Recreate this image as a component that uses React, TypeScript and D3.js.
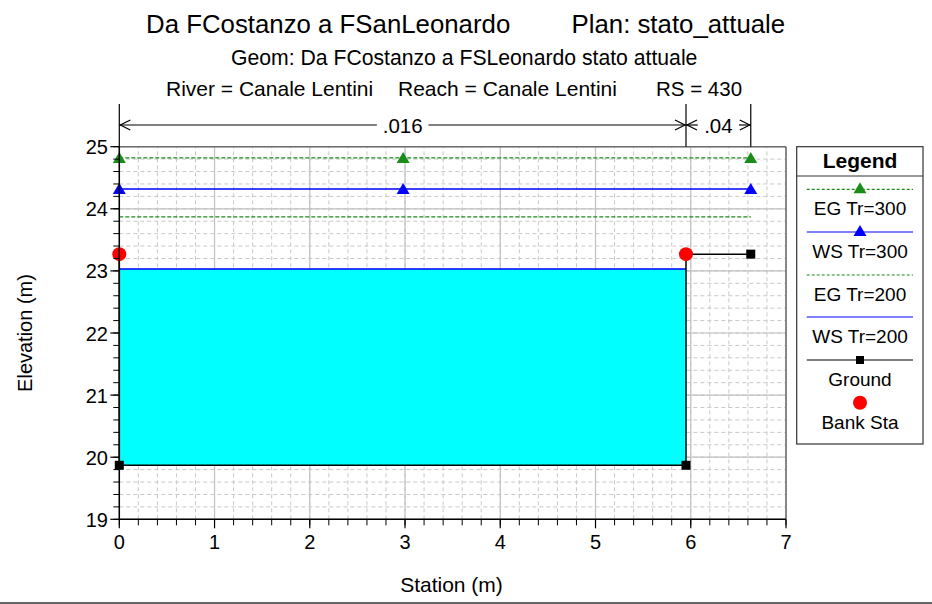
import React from "react";
import * as d3 from "d3";

const groundSta = [0, 0, 5.95, 5.95, 6.63];
const groundElev = [23.27, 19.87, 19.87, 23.27, 23.27];
const bankSta = [0, 5.95];
const bankElev = [23.27, 23.27];
const wsTr200 = 23.03;
const egTr200 = 23.87;
const wsTr300 = 24.32;
const egTr300 = 24.82;
const profileSta = [0, 6.63];
const wsTr200Sta = [0, 5.95];
const markerSta = [0, 2.98, 6.63];
const nBreaks = [0, 5.95, 6.63];
const nValues = [".016", ".04"];
const xTicks = [0, 1, 2, 3, 4, 5, 6, 7];
const yTicks = [19, 20, 21, 22, 23, 24, 25];
const legendItems = ["EG Tr=300", "WS Tr=300", "EG Tr=200", "WS Tr=200", "Ground", "Bank Sta"];

const FONT = "Liberation Sans, Arial, Helvetica, sans-serif";
const GREEN = "#1a8c1a";
const BLUE = "#0000ff";

export default function App() {
  const x = d3.scaleLinear().domain([0, 7]).range([119.3, 786]);
  const y = d3.scaleLinear().domain([19, 25]).range([519.3, 146.7]);
  const [x0, x1] = x.range();
  const [yb, yt] = y.range();
  const minorX = d3.range(0, 7.0001, 0.2);
  const minorY = d3.range(19, 25.0001, 0.2);

  const ground = groundSta.map((s, i) => [s, groundElev[i]] as [number, number]);
  const line = d3.line<[number, number]>().x(d => x(d[0])).y(d => y(d[1]));
  const area = d3
    .area<[number, number]>()
    .x(d => x(d[0]))
    .y0(() => y(wsTr200))
    .y1(d => y(Math.min(d[1], wsTr200)));
  const channel = ground.filter(d => d[0] <= wsTr200Sta[1]);

  const tri = (cx: number, cy: number, c: string, k: number) => (
    <path key={k} d={`M${cx},${cy - 6}L${cx + 6.5},${cy + 5}L${cx - 6.5},${cy + 5}Z`} fill={c} />
  );

  const dimY = 125;
  const legX0 = 806.7, legX1 = 913, legCx = 860;
  const legLineY = [189.3, 232, 275, 317, 360, 402.7];

  return (
    <svg
      width={932}
      height={604}
      style={{ position: "absolute", left: 0, top: 0, background: "#fff" }}
      fontFamily={FONT}
    >
      <rect width={932} height={604} fill="#fff" />
      {/* titles */}
      <text x={146} y={33} fontSize={25.8}>Da FCostanzo a FSanLeonardo</text>
      <text x={571.5} y={33} fontSize={25.8}>Plan: stato_attuale</text>
      <text x={231} y={65} fontSize={21.2}>Geom: Da FCostanzo a FSLeonardo stato attuale</text>
      <text x={166} y={96} fontSize={21}>River = Canale Lentini</text>
      <text x={398} y={96} fontSize={21}>Reach = Canale Lentini</text>
      <text x={656} y={96} fontSize={20.5}>RS = 430</text>

      {/* minor grid */}
      {minorX.map((v, i) => (
        <line key={"mx" + i} x1={x(v)} x2={x(v)} y1={yb} y2={yt} stroke="#c8c8c8" strokeDasharray="4,3" />
      ))}
      {minorY.map((v, i) => (
        <line key={"my" + i} x1={x0} x2={x1} y1={y(v)} y2={y(v)} stroke="#c8c8c8" strokeDasharray="4,3" />
      ))}
      {/* major grid */}
      {xTicks.map(v => (
        <line key={"gx" + v} x1={x(v)} x2={x(v)} y1={yb} y2={yt} stroke="#c0c0c0" strokeWidth={1.2} />
      ))}
      {yTicks.map(v => (
        <line key={"gy" + v} x1={x0} x2={x1} y1={y(v)} y2={y(v)} stroke="#c0c0c0" strokeWidth={1.2} />
      ))}

      {/* water fill */}
      <path d={area(channel) || ""} fill="#00ffff" />

      {/* EG Tr=200 */}
      <line x1={x(profileSta[0])} x2={x(profileSta[1])} y1={y(egTr200)} y2={y(egTr200)} stroke={GREEN} strokeWidth={1.3} strokeDasharray="4,2" />
      {/* WS Tr=200 */}
      <line x1={x(wsTr200Sta[0])} x2={x(wsTr200Sta[1])} y1={y(wsTr200)} y2={y(wsTr200)} stroke={BLUE} strokeWidth={1.5} />
      {/* WS Tr=300 */}
      <line x1={x(profileSta[0])} x2={x(profileSta[1])} y1={y(wsTr300)} y2={y(wsTr300)} stroke={BLUE} strokeWidth={1.5} />
      {markerSta.map((s, i) => tri(x(s), y(wsTr300), BLUE, i))}
      {/* EG Tr=300 */}
      <line x1={x(profileSta[0])} x2={x(profileSta[1])} y1={y(egTr300)} y2={y(egTr300)} stroke={GREEN} strokeWidth={1.3} strokeDasharray="4,2" />
      {markerSta.map((s, i) => tri(x(s), y(egTr300), GREEN, 10 + i))}

      {/* frame */}
      <line x1={x0} x2={x1} y1={yt} y2={yt} stroke="#6e6e6e" strokeWidth={1.5} />
      <line x1={x1} x2={x1} y1={yt} y2={yb} stroke="#6e6e6e" strokeWidth={1.5} />

      {/* ground */}
      <path d={line(ground) || ""} fill="none" stroke="#000" strokeWidth={1.5} />
      {ground.map((d, i) => (
        <rect key={"g" + i} x={x(d[0]) - 4.5} y={y(d[1]) - 4.5} width={9} height={9} fill="#000" />
      ))}
      {bankSta.map((s, i) => (
        <circle key={"b" + i} cx={x(s)} cy={y(bankElev[i])} r={7} fill="#ff0000" />
      ))}

      {/* axes */}
      <line x1={x0} x2={x0} y1={yt} y2={yb} stroke="#000" strokeWidth={1.5} />
      <line x1={x0} x2={x1} y1={yb} y2={yb} stroke="#000" strokeWidth={1.5} />
      {minorX.map((v, i) => (
        <line key={"tx" + i} x1={x(v)} x2={x(v)} y1={yb} y2={yb + 6} stroke="#000" />
      ))}
      {xTicks.map(v => (
        <g key={"xt" + v}>
          <line x1={x(v)} x2={x(v)} y1={yb} y2={yb + 9} stroke="#000" strokeWidth={1.2} />
          <text x={x(v)} y={549} fontSize={20} textAnchor="middle">{v}</text>
        </g>
      ))}
      {minorY.map((v, i) => (
        <line key={"ty" + i} x1={x0 - 6} x2={x0} y1={y(v)} y2={y(v)} stroke="#000" />
      ))}
      {yTicks.map(v => (
        <g key={"yt" + v}>
          <line x1={x0 - 9} x2={x0} y1={y(v)} y2={y(v)} stroke="#000" strokeWidth={1.2} />
          <text x={108} y={y(v) + 7.5} fontSize={20} textAnchor="end">{v}</text>
        </g>
      ))}
      <text x={451.5} y={592} fontSize={21} textAnchor="middle">Station (m)</text>
      <text transform="translate(32,333) rotate(-90)" fontSize={20} textAnchor="middle">Elevation (m)</text>

      {/* manning's n dimension lines */}
      {nBreaks.map((s, i) => (
        <line key={"nb" + i} x1={x(s)} x2={x(s)} y1={104} y2={yt} stroke="#000" strokeWidth={1.2} />
      ))}
      {nValues.map((n, i) => {
        const a = x(nBreaks[i]);
        const b = x(nBreaks[i + 1]);
        const c = (a + b) / 2;
        const hw = n.length * 5.2 + 5;
        return (
          <g key={"n" + i}>
            <line x1={a} x2={c - hw} y1={dimY} y2={dimY} stroke="#000" strokeWidth={1.2} />
            <line x1={c + hw} x2={b} y1={dimY} y2={dimY} stroke="#000" strokeWidth={1.2} />
            <path d={`M${a + 11},${dimY - 5}L${a + 1},${dimY}L${a + 11},${dimY + 5}`} fill="none" stroke="#000" strokeWidth={1.2} />
            <path d={`M${b - 11},${dimY - 5}L${b - 1},${dimY}L${b - 11},${dimY + 5}`} fill="none" stroke="#000" strokeWidth={1.2} />
            <text x={c} y={dimY + 7.5} fontSize={20.5} textAnchor="middle">{n}</text>
          </g>
        );
      })}

      {/* legend */}
      <rect x={796.7} y={146.7} width={126.3} height={297.3} fill="#fff" stroke="#333" strokeWidth={1.2} />
      <line x1={796.7} x2={923} y1={176} y2={176} stroke="#333" strokeWidth={1.2} />
      <text x={legCx} y={168} fontSize={21} fontWeight="bold" textAnchor="middle">Legend</text>
      <line x1={legX0} x2={legX1} y1={legLineY[0]} y2={legLineY[0]} stroke={GREEN} strokeWidth={1.2} strokeDasharray="3,2" />
      {tri(legCx, legLineY[0] - 1, GREEN, 100)}
      <line x1={legX0} x2={legX1} y1={legLineY[1]} y2={legLineY[1]} stroke={BLUE} strokeWidth={1.2} />
      {tri(legCx, legLineY[1] - 1, BLUE, 101)}
      <line x1={legX0} x2={legX1} y1={legLineY[2]} y2={legLineY[2]} stroke={GREEN} strokeWidth={1.2} strokeDasharray="3,2" />
      <line x1={legX0} x2={legX1} y1={legLineY[3]} y2={legLineY[3]} stroke={BLUE} strokeWidth={1.2} />
      <line x1={legX0} x2={legX1} y1={legLineY[4]} y2={legLineY[4]} stroke="#000" strokeWidth={1.2} />
      <rect x={legCx - 4} y={legLineY[4] - 4} width={8} height={8} fill="#000" />
      <circle cx={legCx} cy={legLineY[5]} r={7} fill="#ff0000" />
      {legendItems.map((t, i) => (
        <text key={t} x={legCx} y={legLineY[i] + 26} fontSize={19} textAnchor="middle">{t}</text>
      ))}

      <line x1={0} x2={932} y1={603} y2={603} stroke="#333" strokeWidth={1.5} />
    </svg>
  );
}
